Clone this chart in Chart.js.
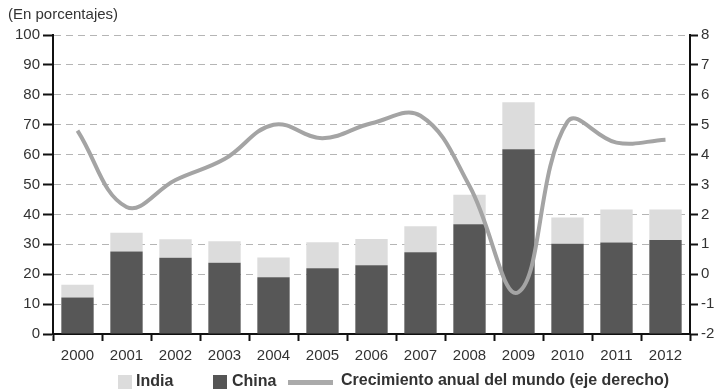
<!DOCTYPE html>
<html>
<head>
<meta charset="utf-8">
<script src="https://cdn.jsdelivr.net/npm/chart.js@4"></script>
<style>
  html, body { margin: 0; padding: 0; background: #fff; }
  #wrap { position: relative; width: 718px; height: 392px; font-family: "Liberation Sans", Arial, sans-serif; }
  #legend { position: absolute; left: 0; top: 372px; width: 718px; height: 20px; font-size: 16px; font-weight: bold; color: #333; }
  #legend span { position: absolute; }
  .sw { width: 14px; height: 14px; top: 3px; }
</style>
</head>
<body>
<div id="wrap">
  <canvas id="chart" width="718" height="392"></canvas>
  <div id="legend">
    <span class="sw" style="left:118px;background:#dcdcdc"></span>
    <span style="left:136px;top:0px">India</span>
    <span class="sw" style="left:213px;background:#555"></span>
    <span style="left:232px;top:0px">China</span>
    <span style="left:288px;top:8px;width:45px;height:5px;background:#aaa"></span>
    <span style="left:341px;top:-1px">Crecimiento anual del mundo (eje derecho)</span>
  </div>
</div>
<script>
// years on the x axis
const years = ['2000', '2001', '2002', '2003', '2004', '2005', '2006', '2007', '2008', '2009', '2010', '2011', '2012'];
// share of China and India (stacked bars, left axis)
const china = [12.2, 27.6, 25.5, 23.8, 19, 22, 23, 27.3, 36.7, 61.8, 30.2, 30.6, 31.4];
const india = [4.3, 6.3, 6.2, 7.2, 6.6, 8.7, 8.8, 8.7, 9.9, 15.7, 8.8, 11, 10.2];
// world annual growth (right axis)
const world = [4.8, 2.25, 3.15, 3.85, 5.0, 4.55, 5.05, 5.3, 2.95, -0.6, 5.1, 4.4, 4.5];

const ctx = document.getElementById('chart').getContext('2d');
new Chart(ctx, {
    type: 'bar',
    data: {
        labels: years,
        datasets: [
            {
                type: 'line',
                label: 'Crecimiento anual del mundo (eje derecho)',
                data: world,
                yAxisID: 'y1',
                borderColor: '#a4a4a4',
                borderWidth: 4,
                pointRadius: 0,
                tension: 0.4,
                fill: false,
                order: 0
            },
            {
                label: 'China',
                data: china,
                backgroundColor: '#575757',
                yAxisID: 'y',
                stack: 'a',
                barPercentage: 0.66,
                categoryPercentage: 1,
                order: 1
            },
            {
                label: 'India',
                data: india,
                backgroundColor: '#dcdcdc',
                yAxisID: 'y',
                stack: 'a',
                barPercentage: 0.66,
                categoryPercentage: 1,
                order: 1
            }
        ]
    },
    options: {
        responsive: false,
        animation: false,
        layout: { padding: { left: 8, right: 0, top: 0, bottom: 0 } },
        plugins: {
            legend: { display: false },
            tooltip: { enabled: false },
            title: {
                display: true,
                text: '(En porcentajes)',
                align: 'start',
                color: '#333',
                font: { family: 'Liberation Sans', size: 15, weight: 'normal' },
                padding: { top: 6, bottom: 11 }
            }
        },
        scales: {
            x: {
                stacked: true,
                offset: true,
                grid: { offset: true, drawOnChartArea: false, drawTicks: true, tickLength: 7, tickColor: '#111', tickWidth: 2 },
                border: { color: '#111', width: 2 },
                ticks: { color: '#333', padding: 6, font: { family: 'Liberation Sans', size: 15 } },
                afterFit: s => { s.height = 58; }
            },
            y: {
                stacked: true,
                position: 'left',
                min: 0,
                max: 100,
                ticks: { stepSize: 10, color: '#333', padding: 3, font: { family: 'Liberation Sans', size: 15 } },
                grid: { color: '#b5b5b5', lineWidth: 1, tickColor: '#111', tickWidth: 2, tickLength: 10 },
                border: { color: '#111', width: 2, dash: [7, 5] },
                afterFit: s => { s.width = 45; }
            },
            y1: {
                position: 'right',
                min: -2,
                max: 8,
                ticks: { stepSize: 1, color: '#333', padding: 3, font: { family: 'Liberation Sans', size: 15 } },
                grid: { drawOnChartArea: false, tickColor: '#111', tickWidth: 2, tickLength: 8 },
                border: { color: '#111', width: 2 },
                afterFit: s => { s.width = 28; }
            }
        }
    }
});
</script>
</body>
</html>
